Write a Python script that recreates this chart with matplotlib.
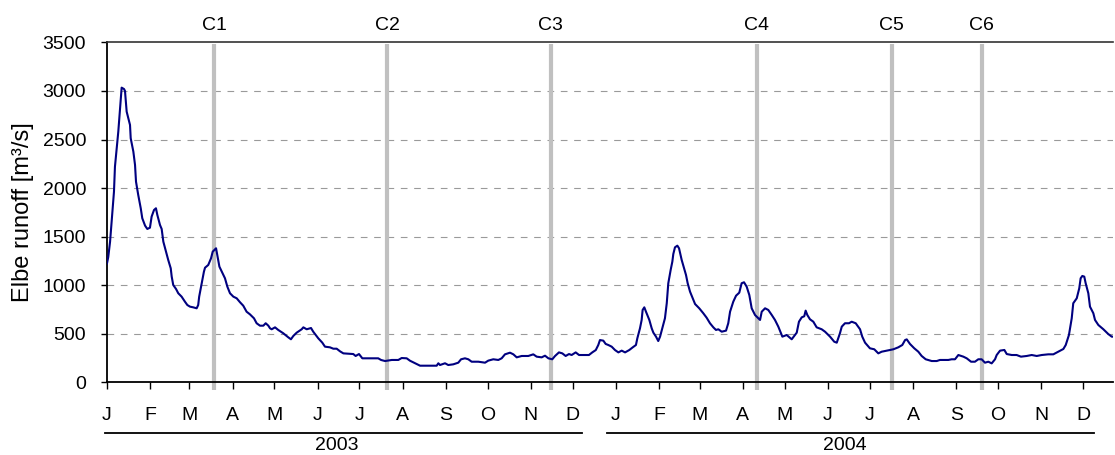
import matplotlib
matplotlib.use("Agg")
import matplotlib.pyplot as plt
import matplotlib.transforms as mtransforms

plt.rcParams['font.family'] = ['Liberation Sans', 'DejaVu Sans']

# days since 2003-01-01
day = [0, 0.9, 2.2, 5.0, 5.7, 8.1, 9.8, 10.5, 12.2, 12.9, 14.1, 16.5, 17.0, 18.9, 20.1, 20.8,
       22.4, 24.2, 25.3, 27.3, 28.9, 30.8, 32.0, 33.7, 35.1, 36.1, 38.0, 39.2, 40.4, 42.3, 43.9,
       45.7, 46.4, 47.5, 49.5, 51.1, 53.5, 55.9, 57.6, 59.5, 61.8, 64.3, 65.4, 66.1, 67.9, 69.5,
       70.3, 72.6, 74.6, 75.8, 78.2, 79.1, 80.6, 82.3, 84.6, 86.3, 88.2, 90.6, 93.0, 95.4, 97.7,
       100.1, 102.5, 105.4, 107.3, 109.7, 112.1, 113.8, 115.7, 116.9,
       118.1, 120.5, 122.8, 126.4, 130.0, 131.9, 133.6, 136.0, 139.6, 140.8, 143.2, 146.3, 147.9,
       151.5, 154.4, 156.3, 159.9, 162.3, 164.7, 167.1, 169.5, 173.0, 176.6, 178.3, 180.7, 183.1,
       186.2, 189.8, 194.5, 196.5, 199.4, 204.2, 208.9, 211.3, 214.9, 217.3, 220.9, 224.5, 228.0,
       232.8, 236.4, 237.6,
       238.8, 242.4, 244.7, 248.3, 251.9, 253.9, 256.7, 259.1, 261.5, 266.3, 271.1, 273.4, 277.0,
       280.6, 283.0, 285.4, 289.0, 291.4, 293.8, 297.4, 302.1, 305.7, 308.1, 311.7, 314.1, 316.5,
       319.3, 321.3, 324.1, 326.5, 328.9, 331.3, 333.2, 336.1, 338.5, 341.6, 345.6, 348.0, 350.5,
       352.3, 353.5, 355.9, 357.6, 359.5,
       361.9, 364.3, 366.7, 369.1, 371.5, 374.5, 377.0, 379.3, 380.3, 382.2, 383.4, 384.1, 385.3,
       386.5, 388.9, 390.6, 391.8, 393.7, 395.3, 396.6, 398.5, 400.1, 401.4, 402.5, 404.2, 405.4,
       406.1, 407.3, 409.0, 410.2, 412.1, 413.8, 415.2, 416.4, 418.1, 420.0, 421.7, 424.7, 427.6,
       430.0, 432.4, 434.8, 436.7, 438.4, 440.8, 443.9, 445.5, 446.8, 449.1, 451.1, 453.4, 455.1,
       456.8, 458.7, 460.6, 462.3, 464.7, 468.3, 469.5, 471.9, 474.2, 476.7, 479.0, 481.4,
       484.3, 487.4, 491.0, 494.6, 496.2, 498.2, 500.0, 501.0, 502.2, 504.1, 506.5, 508.9, 512.5,
       514.9, 518.5, 521.5, 523.3, 525.6, 526.9, 529.2, 532.1, 534.0, 536.9, 540.0, 541.6, 543.6,
       547.1, 550.2, 553.1, 555.5, 559.1, 563.9, 567.4, 570.3, 572.3, 573.5, 575.8, 578.9, 581.8,
       584.2, 587.1, 591.4, 595.0, 597.3, 603.3,
       605.7, 608.1, 610.5, 614.1, 616.5, 619.6, 622.4, 624.8, 627.2, 629.6, 632.0, 634.4, 636.8,
       638.0, 640.4, 643.5, 645.2, 648.8, 652.3, 655.4, 659.5, 663.1, 666.7, 670.3, 675.0, 678.6,
       682.2, 685.8, 687.5, 689.8, 691.8, 692.9, 695.4, 697.2, 698.2, 699.4, 700.8, 701.8, 703.7,
       704.9, 707.3, 708.5, 710.9, 714.5, 718.0, 720.5, 722.0]

runoff = [1225, 1290, 1448, 1963, 2220, 2581, 2907, 3034, 3020, 3000, 2787, 2650, 2513, 2375, 2238, 2066,
          1929, 1792, 1689, 1613, 1579, 1592, 1706, 1774, 1792, 1723, 1620, 1579, 1448, 1345, 1260,
          1174, 1088, 1002, 961, 917, 882, 830, 796, 779, 772, 762, 796, 882, 1020, 1139,
          1180, 1208, 1277, 1345, 1380, 1311, 1191, 1139, 1071, 985, 917, 882, 865, 824, 789,
          727, 700, 659, 608, 583, 583, 608, 583, 556,
          546, 566, 539, 505, 463, 443, 477, 511, 546, 566, 546, 559, 521,
          453, 408, 367, 360, 346, 346, 319, 298, 295, 291, 271, 291, 247,
          247, 247, 247, 230, 219, 230, 230, 250, 247, 222, 196, 171, 171,
          171, 171, 196,
          178, 196, 178, 185, 202, 237, 247, 237, 212, 212, 202, 223, 237,
          230, 247, 288, 305, 288, 257, 271, 271, 288, 264, 257, 274, 247,
          237, 271, 308, 298, 271, 291, 281, 308, 281, 281, 281, 308, 332,
          384, 435, 429, 395, 384,
          367, 332, 308, 326, 308, 332, 360, 384, 453, 556, 642, 745, 772,
          727, 642, 556, 511, 470, 425, 470, 573, 659, 814, 1020, 1157, 1242,
          1321, 1390, 1407, 1380, 1260, 1174, 1105, 1020, 933, 865, 806, 762, 711,
          665, 608, 566, 539, 546, 521, 532, 608, 727, 830, 892, 923, 1020,
          1030, 985, 899, 762, 693, 642, 727, 762, 745, 693, 642, 573,
          470, 487, 443, 511, 624, 669, 680, 738, 693, 649, 624, 566, 546,
          521, 470, 418, 408, 505, 573, 608, 608, 624, 608, 546, 470, 408,
          350, 340, 298, 315, 326, 340, 360, 384, 435, 442, 395, 350, 315,
          271, 237, 219, 219, 230, 230,
          237, 237, 281, 264, 247, 212, 212, 237, 237, 202, 212, 195, 237,
          281, 326, 333, 291, 281, 281, 264, 271, 281, 271, 281, 288, 288,
          315, 343, 384, 487, 659, 814, 865, 968, 1071, 1095, 1088, 1020, 917,
          779, 711, 642, 590, 546, 497, 470, 470]

month_starts = [0, 31, 59, 90, 120, 151, 181, 212, 243, 273, 304, 334,
                365, 396, 425, 456, 486, 517, 547, 578, 609, 639, 670, 700]
month_labels = ['J', 'F', 'M', 'A', 'M', 'J', 'J', 'A', 'S', 'O', 'N', 'D'] * 2

campaign_days = [76.7, 201.0, 318.2, 465.9, 562.7, 627.2]
campaign_labels = ['C1', 'C2', 'C3', 'C4', 'C5', 'C6']

years = ['2003', '2004']
year_spans = [(-1.5, 340.6), (358.6, 707.8)]
year_label_days = [165, 529]

yticks = [0, 500, 1000, 1500, 2000, 2500, 3000, 3500]

FS = 14

fig = plt.figure(figsize=(11.15, 4.55), dpi=100)
ax = fig.add_axes([107 / 1115, 1 - 382.3 / 455, (1113 - 107) / 1115, (382.3 - 42.4) / 455])

ax.set_xlim(0, 721.4)
ax.set_ylim(0, 3500)

# grid
for yv in yticks[1:-1]:
    ax.axhline(yv, color='#9a9a9a', lw=0.8, dashes=(6, 6), zorder=1)

# campaign lines
for d, lab in zip(campaign_days, campaign_labels):
    ax.plot([d, d], [-80, 3480], color='#c0c0c0', lw=3.0, clip_on=False, zorder=2,
            solid_capstyle='butt')
    ax.text(d, 3500 + 170, lab, ha='center', va='center', fontsize=FS, color='black')

ax.plot(day, runoff, color='#000080', lw=1.5, zorder=3)

ax.set_xticks(month_starts)
ax.set_xticklabels(month_labels, fontsize=FS)
ax.set_yticks(yticks)
ax.set_yticklabels([str(v) for v in yticks], fontsize=FS)
ax.tick_params(axis='x', direction='out', length=5, width=1, pad=13)
ax.tick_params(axis='y', direction='out', length=4, width=1, pad=11)

for s in ['left', 'bottom']:
    ax.spines[s].set_linewidth(1.3)
    ax.spines[s].set_color('black')
ax.spines['top'].set_color('#333333')
ax.spines['top'].set_linewidth(1.2)
ax.spines['right'].set_visible(False)

ax.set_ylabel('Elbe runoff [m³/s]', fontsize=17, labelpad=6)

trans = mtransforms.blended_transform_factory(ax.transData, ax.transAxes)
for (x0, x1), lab, xd in zip(year_spans, years, year_label_days):
    ax.plot([x0, x1], [-0.149, -0.149], color='black', lw=1.3, transform=trans, clip_on=False)
    ax.text(xd, -0.187, lab, ha='center', va='center', fontsize=FS, transform=trans)

fig.savefig('out.png', dpi=100)
